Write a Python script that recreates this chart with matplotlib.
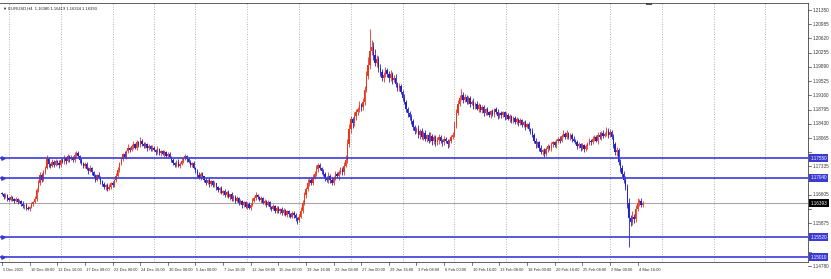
import numpy as np
import matplotlib
matplotlib.use("Agg")
import matplotlib.pyplot as plt
import matplotlib.transforms as mtransforms

plt.rcParams["font.family"] = ["Liberation Sans", "DejaVu Sans"]

# EURUSD H4 closes in pips (1.1660 -> 11660), one per bar
closes = [
    11662, 11655, 11660, 11652, 11648, 11655, 11650, 11645, 11650, 11643, 11646,
    11638, 11632, 11635, 11628, 11625, 11630, 11636, 11642, 11650,
    11672, 11690, 11712, 11700, 11718, 11730, 11752,
    11740, 11735, 11745, 11738, 11748, 11742, 11736, 11750, 11745,
    11755, 11748, 11760, 11752, 11758, 11750, 11762, 11768, 11760,
    11750, 11742, 11735, 11740, 11728, 11722, 11730, 11718, 11710, 11700, 11712, 11705,
    11695, 11688, 11680, 11686, 11676, 11682, 11690, 11685, 11698, 11710, 11725,
    11740, 11752, 11765, 11758, 11772, 11780, 11775,
    11785, 11790, 11782, 11795, 11788, 11800, 11792, 11785, 11790, 11780, 11786, 11778,
    11782, 11775, 11770, 11778, 11768, 11772, 11765, 11770, 11760, 11766, 11758,
    11750, 11742, 11738, 11745, 11735, 11740, 11748, 11755, 11760, 11752, 11745, 11738, 11742, 11730, 11722,
    11712, 11705, 11715, 11708, 11700, 11692, 11698, 11688, 11695, 11685, 11690,
    11680, 11672, 11678, 11665, 11670, 11660, 11668, 11655, 11662, 11650, 11656,
    11645, 11652, 11640, 11646, 11635, 11642, 11630, 11638, 11628, 11635,
    11645, 11652, 11660, 11655, 11648, 11652,
    11640, 11645, 11635, 11642, 11630, 11625, 11632, 11620, 11628, 11618, 11625,
    11615, 11622, 11610, 11618, 11612, 11605, 11615, 11608, 11600, 11595, 11605,
    11620, 11640, 11660, 11675, 11690, 11700, 11692, 11705, 11715, 11728, 11738, 11730,
    11722, 11715, 11705, 11698, 11710, 11700, 11692, 11705, 11715, 11708, 11720, 11725, 11718, 11735, 11750,
    11790, 11830, 11855, 11845, 11862,
    11872, 11880, 11890, 11885, 11900, 11930, 11965,
    11995, 12030, 12040, 12020,
    12000, 12010, 11985,
    11975, 11960, 11968,
    11980, 11970, 11960,
    11972, 11955, 11960, 11945, 11935, 11940,
    11925, 11910, 11900, 11880, 11870, 11860,
    11850, 11835, 11825, 11830,
    11815, 11825, 11810, 11820, 11805, 11815, 11800, 11812, 11798, 11808, 11795, 11802, 11810,
    11800, 11795, 11805, 11798, 11790, 11800, 11808, 11815,
    11840, 11870, 11895, 11910, 11918, 11905, 11912, 11900, 11908, 11895,
    11900, 11888, 11895, 11882, 11890, 11878, 11885, 11870, 11880, 11872, 11865, 11875, 11868, 11880, 11872, 11862, 11870,
    11865, 11872, 11860, 11866, 11855, 11862, 11850, 11858, 11848, 11855, 11845, 11852, 11840, 11848, 11835, 11842, 11830, 11825,
    11815, 11800, 11790, 11795, 11780, 11770, 11775, 11765,
    11778, 11785, 11780, 11790, 11795, 11788, 11798, 11805, 11800,
    11812, 11818, 11810, 11820, 11808, 11815, 11805, 11800, 11795,
    11785, 11790, 11780, 11788, 11778, 11785, 11792, 11800, 11795, 11805, 11810, 11800, 11815, 11808, 11820, 11812, 11818,
    11825, 11815, 11822, 11810,
    11790, 11770, 11775, 11745, 11730, 11715, 11700, 11680,
    11640, 11600, 11590, 11605, 11598,
    11625, 11640, 11645, 11635, 11639,
]
first_open = 11665

# upper / lower shadow lengths in pips
wick_up = [
    4, 3, 5, 2, 4, 6, 3, 2, 5, 3, 4, 2, 6, 3, 4, 5, 3, 6, 4, 8,
    6, 10, 8, 5, 7, 4, 12, 6, 3, 8, 4, 5, 3, 7, 4, 6, 9, 3, 5, 4,
    6, 3, 8, 5, 4, 3, 5, 2, 6, 4, 3, 7, 2, 5, 4, 3, 6, 4, 3, 5,
    2, 4, 6, 3, 5, 4, 7, 8, 5, 6, 4, 7, 5, 10, 4, 6, 8, 3, 7, 5,
    9, 4, 3, 6, 4, 5, 3, 6, 4, 3, 7, 2, 5, 4, 6, 3, 5, 4, 3, 6,
    4, 5, 7, 6, 8, 4, 5, 3, 6, 4, 2, 5, 3, 4, 6, 3, 5, 2, 4, 3,
    5, 3, 4, 6, 2, 4, 3, 5, 4, 6, 3, 4, 2, 5, 3, 4, 6, 3, 5, 2,
    4, 3, 5, 4, 6, 8, 5, 7, 4, 3, 5, 4, 6, 3, 5, 4, 2, 6, 3, 4,
    5, 3, 4, 6, 3, 5, 4, 2, 5, 3, 6, 4, 7, 10, 8, 9, 6, 12, 7, 5,
    8, 6, 10, 4, 5, 3, 6, 4, 5, 8, 3, 6, 4, 7, 5, 4, 8, 6, 9, 12,
    15, 12, 9, 6, 10, 8, 7, 12, 6, 9, 10, 14, 20, 55, 18, 12, 15, 10, 8, 12,
    9, 7, 10, 6, 8, 9, 5, 7, 10, 6, 8, 5, 6, 9, 4, 7, 5, 8, 6, 4,
    6, 10, 4, 7, 5, 8, 3, 6, 9, 4, 7, 5, 8, 6, 4, 5, 7, 3, 6, 4,
    5, 8, 10, 12, 9, 7, 14, 6, 8, 5, 7, 6, 4, 8, 5, 6, 7, 4, 5, 6,
    3, 7, 5, 4, 6, 3, 5, 8, 4, 6, 3, 5, 7, 4, 6, 3, 5, 4, 6, 3,
    5, 4, 3, 6, 4, 5, 3, 7, 4, 6, 5, 3, 8, 4, 6, 5, 7, 4, 6, 3,
    5, 6, 4, 7, 5, 8, 4, 6, 3, 5, 4, 7, 3, 6, 5, 4, 6, 3, 5, 4,
    6, 4, 7, 5, 3, 6, 8, 4, 7, 5, 9, 6, 8, 5, 7, 6, 9, 5, 8, 6,
    7, 10, 8, 12, 9, 14, 7, 10, 12, 6, 8, 5,
]
wick_dn = [
    3, 5, 2, 6, 4, 3, 5, 4, 2, 6, 3, 5, 4, 7, 6, 3, 5, 4, 3, 2,
    4, 3, 5, 6, 4, 5, 3, 8, 6, 4, 7, 3, 5, 6, 4, 3, 5, 7, 4, 6,
    3, 5, 4, 6, 3, 7, 4, 6, 5, 3, 8, 4, 6, 5, 7, 4, 3, 6, 5, 4,
    7, 5, 4, 6, 5, 3, 4, 3, 6, 4, 5, 3, 6, 4, 5, 3, 7, 4, 6, 5,
    4, 6, 5, 3, 7, 4, 6, 5, 3, 6, 4, 5, 7, 3, 6, 4, 5, 3, 6, 4,
    5, 7, 4, 6, 3, 5, 4, 6, 3, 7, 5, 4, 6, 5, 3, 7, 4, 6, 5, 3,
    6, 4, 5, 3, 7, 4, 6, 3, 5, 4, 6, 3, 7, 4, 5, 6, 3, 5, 4, 7,
    5, 4, 6, 3, 5, 4, 3, 5, 6, 4, 7, 3, 5, 6, 4, 5, 7, 3, 6, 5,
    4, 6, 5, 7, 3, 6, 8, 5, 4, 7, 6, 8, 5, 4, 6, 5, 7, 4, 6, 5,
    7, 4, 6, 8, 5, 7, 6, 9, 4, 6, 8, 5, 7, 6, 4, 8, 5, 7, 6, 4,
    8, 6, 10, 12, 7, 9, 6, 8, 10, 7, 9, 6, 8, 12, 10, 14, 9, 11, 8, 10,
    7, 9, 6, 8, 10, 7, 9, 6, 8, 7, 9, 6, 8, 5, 7, 9, 6, 8, 7, 9,
    6, 8, 10, 7, 9, 6, 8, 7, 5, 9, 6, 8, 7, 10, 6, 8, 7, 5, 9, 6,
    7, 5, 6, 8, 5, 7, 6, 9, 5, 7, 6, 8, 5, 7, 6, 4, 8, 5, 7, 6,
    5, 7, 4, 6, 5, 8, 4, 6, 5, 7, 4, 6, 5, 3, 7, 5, 4, 6, 5, 7,
    4, 6, 5, 7, 4, 6, 8, 5, 7, 9, 6, 8, 5, 7, 6, 4, 8, 5, 6, 7,
    5, 7, 4, 6, 5, 3, 7, 5, 4, 6, 8, 5, 4, 7, 5, 6, 4, 8, 5, 6,
    4, 7, 5, 6, 4, 8, 5, 7, 6, 4, 6, 8, 5, 7, 9, 8, 10, 7, 12, 9,
    10, 8, 12, 73, 10, 8, 9, 7, 6, 8, 5, 6,
]

# price scale labels on the right
price_ticks = [1.14780, 1.15145, 1.15510, 1.15875, 1.16240, 1.16605, 1.16970,
               1.17335, 1.17700, 1.18065, 1.18430, 1.18795, 1.19160, 1.19525,
               1.19890, 1.20255, 1.20620, 1.20985, 1.21350]

# horizontal levels drawn on the chart
levels = [1.17550, 1.17040, 1.15520, 1.15010]
last_price = 1.16393

# time scale: one label every 16 bars
time_labels = ["5 Dec 2025", "10 Dec 00:00", "12 Dec 16:00", "17 Dec 08:00",
               "22 Dec 00:00", "24 Dec 16:00", "30 Dec 08:00", "5 Jan 00:00",
               "7 Jan 16:00", "12 Jan 08:00", "15 Jan 00:00", "19 Jan 16:00",
               "22 Jan 08:00", "27 Jan 00:00", "29 Jan 16:00", "3 Feb 08:00",
               "6 Feb 00:00", "10 Feb 16:00", "13 Feb 08:00", "18 Feb 00:00",
               "20 Feb 16:00", "25 Feb 08:00", "2 Mar 00:00", "4 Mar 16:00"]
# bar index of each Monday 00:00 (vertical grid)
week_bars = [4, 34, 64, 88, 112, 142, 172, 202, 232, 262, 292, 322, 352, 382, 412, 442]

close = np.array(closes) / 10000.0
opn = np.concatenate([[first_open / 10000.0], close[:-1]])
high = np.maximum(opn, close) + np.array(wick_up) / 10000.0
low = np.minimum(opn, close) - np.array(wick_dn) / 10000.0
n = len(close)
x = np.arange(n)

up_col = "#e8361c"
dn_col = "#2222c8"
line_col = "#3b3bd4"

fig = plt.figure(figsize=(8.31, 2.79), dpi=100)
ax = fig.add_axes([0, 17 / 279, 808 / 831, 259 / 279])
ax.set_xlim(-1.16, 466.7)
ax.set_ylim(1.14883, 1.21530)

for wb in week_bars:
    ax.axvline(wb, color="#9a9a9a", lw=0.6, ls=(0, (1, 2)), zorder=0)

colors = np.where(close >= opn, up_col, dn_col)
ax.vlines(x, low, high, colors=colors, lw=0.6, zorder=2)
body = np.abs(close - opn)
body = np.maximum(body, 0.00008)
ax.bar(x, body, bottom=np.minimum(opn, close), width=0.75, color=colors,
       linewidth=0, zorder=3)

ax.axhline(last_price, color="#a8a8a8", lw=0.8, zorder=1)
for lv in levels:
    ax.axhline(lv, color=line_col, lw=1.2, zorder=4)
    ax.plot([0.3], [lv], marker=">", ms=2.5, color=line_col, zorder=5)

for sp in ax.spines.values():
    sp.set_linewidth(0.6)
    sp.set_color("#444444")
ax.spines["left"].set_visible(False)
ax.set_xticks([])
ax.set_yticks([])

ytr = mtransforms.blended_transform_factory(ax.transAxes, ax.transData)
boxed = levels + [last_price]
for p in price_ticks:
    ax.plot([1.0, 1.004], [p, p], transform=ytr, color="#444444", lw=0.5, clip_on=False)
    # labels hidden under a coloured price box are not drawn
    if min(abs(p - b) for b in boxed) < 0.0016:
        continue
    ax.text(1.006, p, "%.5f" % p, transform=ytr, fontsize=3.3, va="center",
            ha="left", color="#333333", clip_on=False)

for lv in levels:
    ax.text(1.003, lv, "%.5f" % lv, transform=ytr, fontsize=3.3, va="center",
            ha="left", color="white", clip_on=False,
            bbox=dict(boxstyle="square,pad=0.3", fc=line_col, ec=line_col, lw=0))
ax.text(1.003, last_price, "%.5f" % last_price, transform=ytr, fontsize=3.3,
        va="center", ha="left", color="white", clip_on=False,
        bbox=dict(boxstyle="square,pad=0.3", fc="black", ec="black", lw=0))

xtr = mtransforms.blended_transform_factory(ax.transData, ax.transAxes)
for k, lab in enumerate(time_labels):
    xb = k * 16
    ax.plot([xb, xb], [0, -0.012], transform=xtr, color="#444444", lw=0.5, clip_on=False)
    ax.text(xb + 0.6, -0.032, lab, transform=xtr, fontsize=2.9, va="center",
            ha="left", color="#333333", clip_on=False)

ax.plot([374.5], [1.2150], marker="_", ms=4, mew=1.2, color="#333333", clip_on=False)

ax.text(0.004, 0.985, "\u25bc EURUSD,H4  1.16380 1.16419 1.16324 1.16393",
        transform=ax.transAxes, fontsize=3.0, va="top", ha="left", color="#222222")

fig.savefig("out.png", dpi=100)
